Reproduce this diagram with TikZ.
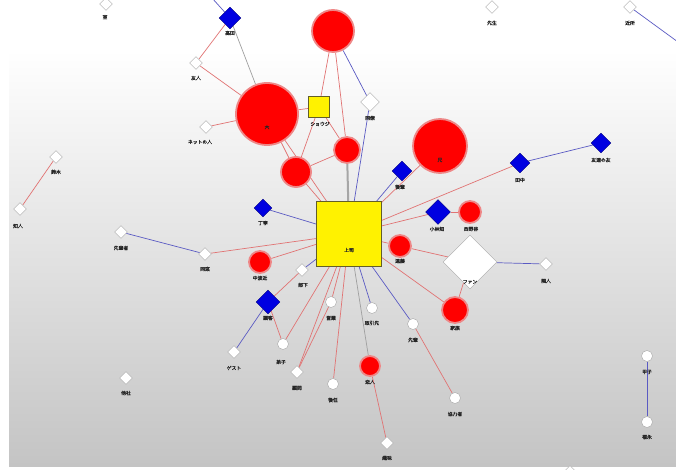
\documentclass[tikz,border=0pt]{standalone}
\usepackage{fontspec}
\newfontfamily\cjk[AutoFakeBold=1.5]{Noto Sans CJK JP}
\usetikzlibrary{shapes.geometric,backgrounds}
\definecolor{pinkedge}{RGB}{225,115,115}
\definecolor{blueedge}{RGB}{90,90,195}
\definecolor{nodeblue}{RGB}{0,0,225}
\definecolor{halo}{RGB}{238,135,135}
\definecolor{bgbottom}{RGB}{196,196,196}
\tikzset{
  wd/.style={diamond, aspect=1, draw=gray!70, fill=white, minimum size=13pt, inner sep=0pt},
  wc/.style={circle, draw=gray!70, fill=white, minimum size=11pt, inner sep=0pt},
  bd/.style={diamond, aspect=1, draw=blue!50!black, fill=nodeblue, minimum size=20pt, inner sep=0pt},
  rc/.style={circle, fill=red, draw=halo, line width=1.8pt, inner sep=0pt},
  ys/.style={rectangle, fill=yellow, draw=olive!60!black, line width=0.6pt, inner sep=0pt},
  lab/.style={font=\cjk\bfseries\fontsize{4.8}{5}\selectfont, inner sep=0pt, text=black!85},
  pe/.style={draw=pinkedge, line width=0.7pt},
  be/.style={draw=blueedge, line width=0.7pt},
  ge/.style={draw=gray!75, line width=0.7pt},
  te/.style={draw=gray!70, line width=2pt}
}
\begin{document}
\begin{tikzpicture}[x=1pt,y=-1pt]
\useasboundingbox (0,0) rectangle (676,470);
% nodes
\node[ys, minimum size=65pt] (C) at (349,234) {};
\node[lab] at (349,250) {上司};
\node[ys, minimum size=21pt] (Y2) at (319,107) {};
\node[lab] at (320,124) {ショウジ};

\node[rc, minimum size=42pt] (R1) at (333,31) {};
\node[rc, minimum size=62pt] (R2) at (267,114) {};
\node[lab] at (267,127) {大};
\node[rc, minimum size=54pt] (R3) at (440,146) {};
\node[lab] at (440,160) {兄};
\node[rc, minimum size=26pt] (R4) at (347,150) {};
\node[rc, minimum size=30pt] (R5) at (296,172) {};
\node[rc, minimum size=22pt] (R6) at (470,212) {};
\node[lab] at (471,229) {西野谷};
\node[rc, minimum size=22pt] (R7) at (400,246) {};
\node[lab] at (400,261) {遠藤};
\node[rc, minimum size=22pt] (R8) at (260,262) {};
\node[lab] at (260,278) {中波近};
\node[rc, minimum size=26pt] (R9) at (455,310) {};
\node[lab] at (455,328) {家族};
\node[rc, minimum size=20pt] (R10) at (370,366) {};
\node[lab] at (370,382) {恋人};

\node[bd, minimum size=22pt] (B1) at (230,18) {};
\node[lab] at (230,33) {高田};
\node[bd] (B2) at (402,171) {};
\node[lab] at (400,187) {後輩};
\node[bd, minimum size=18pt] (B3) at (263,208) {};
\node[lab] at (263,223) {丁寧};
\node[bd, minimum size=25pt] (B4) at (438,212) {};
\node[lab] at (437,229) {小林知};
\node[bd] (B5) at (520,163) {};
\node[lab] at (520,180) {田中};
\node[bd] (B6) at (601,143) {};
\node[lab] at (601,160) {友達の友};
\node[bd, minimum size=24pt] (B7) at (268,302) {};
\node[lab] at (268,318) {顧客};

\node[wd] (W1) at (106,4) {};
\node[lab] at (105,17) {室};
\node[wd] (W2) at (196,63) {};
\node[lab] at (196,78) {友人};
\node[wd, minimum size=19pt] (W3) at (370,102) {};
\node[lab] at (370,118) {同僚};
\node[wd] (W4) at (206,127) {};
\node[lab] at (200,142) {ネットの人};
\node[wd] (W5) at (56,157) {};
\node[lab] at (56,172) {鈴木};
\node[wd] (W6) at (20,209) {};
\node[lab] at (18,226) {知人};
\node[wd] (W7) at (121,232) {};
\node[lab] at (121,248) {先輩者};
\node[wd] (W8) at (205,254) {};
\node[lab] at (205,269) {同窓};
\node[wd] (W9) at (302,270) {};
\node[lab] at (303,285) {部下};
\node[wd] (W10) at (492,7) {};
\node[lab] at (492,23) {先生};
\node[wd] (W11) at (630,7) {};
\node[lab] at (630,23) {近所};
\node[wd, minimum size=54pt] (WB) at (470,262) {};
\node[lab] at (470,282) {ファン};
\node[wd] (W12) at (546,264) {};
\node[lab] at (546,281) {隣人};
\node[wd] (W13) at (234,352) {};
\node[lab] at (234,368) {ゲスト};
\node[wc] (W14) at (283,344) {};
\node[lab] at (281,362) {弟子};
\node[wd] (W15) at (297,372) {};
\node[lab] at (297,388) {顧問};
\node[wc] (W16) at (331,302) {};
\node[lab] at (331,318) {営業};
\node[wc] (W17) at (372,308) {};
\node[lab] at (372,323) {取引先};
\node[wc] (W18) at (413,324) {};
\node[lab] at (413,340) {先輩};
\node[wc] (W19) at (333,384) {};
\node[lab] at (333,400) {後任};
\node[wd] (W20) at (126,378) {};
\node[lab] at (126,393) {他社};
\node[wc] (W21) at (455,398) {};
\node[lab] at (455,414) {協力者};
\node[wd] (W22) at (387,443) {};
\node[lab] at (387,458) {趣味};
\node[wc] (W23) at (647,356) {};
\node[lab] at (647,372) {甲子};
\node[wc] (W24) at (647,422) {};
\node[lab] at (647,437) {福永};
\node[wd] (W25) at (570,472) {};

\coordinate (offTL) at (212,-2);
\coordinate (offR) at (678,42);

\begin{pgfonlayer}{background}
\fill[white] (0,0) rectangle (676,470);
\fill[white] (9,0) rectangle (676,50);
\shade[top color=white, bottom color=bgbottom] (9,50) rectangle (676,466);
% edges
\draw[be] (offTL) -- (B1);
\draw[ge] (B1) -- (R2);
\draw[pe] (B1) -- (W2);
\draw[pe] (W2) -- (R2);
\draw[pe] (W4) -- (R2);
\draw[pe] (R2) -- (R5);
\draw[pe] (R2) -- (Y2);
\draw[pe] (R2) -- (C);
\draw[pe] (R1) -- (Y2);
\draw[pe] (R1) -- (R4);
\draw[be] (R1) -- (W3);
\draw[be] (W3) -- (C);
\draw[te] (R4) -- (C);
\draw[pe] (Y2) -- (R5);
\draw[pe] (Y2) -- (R4);
\draw[pe] (R5) -- (R4);
\draw[pe] (R5) -- (C);
\draw[be] (B2) -- (C);
\draw[pe] (R3) -- (C);
\draw[pe] (C) -- (B5);
\draw[be] (B5) -- (B6);
\draw[pe] (C) -- (B4);
\draw[pe] (B4) -- (R6);
\draw[pe] (C) -- (R7);
\draw[pe] (R7) -- (WB);
\draw[be] (WB) -- (W12);
\draw[pe] (WB) -- (R9);
\draw[pe] (C) -- (R9);
\draw[be] (C) -- (B3);
\draw[pe] (C) -- (W8);
\draw[be] (W8) -- (W7);
\draw[pe] (C) -- (R8);
\draw[be] (C) -- (W9);
\draw[pe] (W9) -- (B7);
\draw[be] (B7) -- (W13);
\draw[pe] (B7) -- (W14);
\draw[pe] (C) -- (W14);
\draw[pe] (C) -- (W15);
\draw[pe] (W16) -- (W15);
\draw[pe] (C) -- (W16);
\draw[pe] (C) -- (W19);
\draw[ge] (C) -- (R10);
\draw[pe] (R10) -- (W22);
\draw[be] (C) -- (W17);
\draw[be] (C) -- (W18);
\draw[pe] (W18) -- (W21);
\draw[pe] (W5) -- (W6);
\draw[be] (W11) -- (offR);
\draw[be] (W23) -- (W24);
\end{pgfonlayer}
\end{tikzpicture}
\end{document}
